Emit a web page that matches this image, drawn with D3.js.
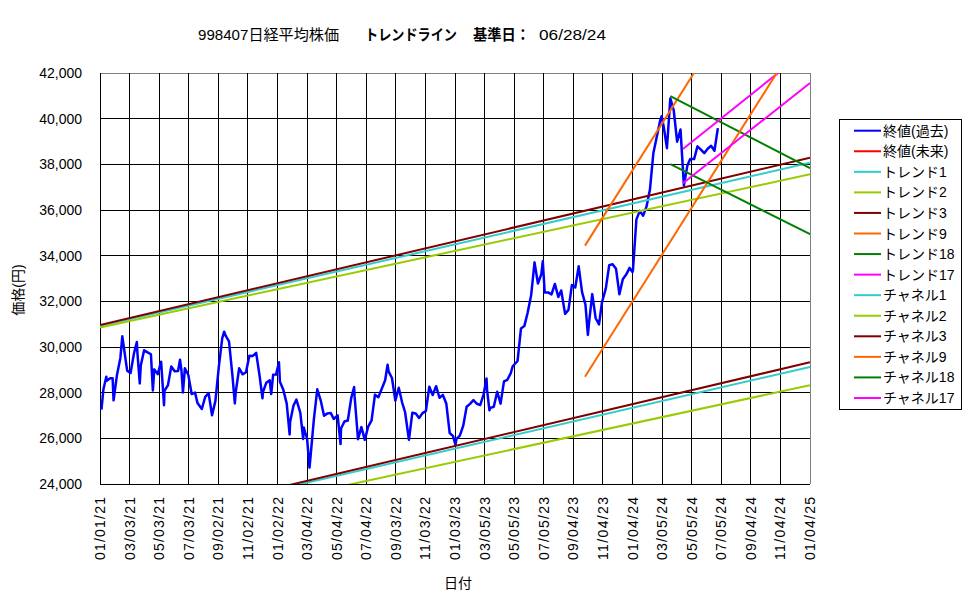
<!DOCTYPE html>
<html>
<head>
<meta charset="utf-8">
<script src="https://cdn.jsdelivr.net/npm/d3@7"></script>
<style>
  body { margin: 0; background: #fff; }
  text { font-family: "Liberation Sans", "Noto Sans CJK JP", sans-serif; fill: #000; }
</style>
</head>
<body>
<script>
//Size of the page and of the plot area
const w = 975;
const h = 599;
const plotLeft = 100, plotRight = 810, plotTop = 73, plotBottom = 484;

//Tick labels (mm/dd/yy), as on the chart
const xTickLabels = ["01/01/21","03/03/21","05/03/21","07/03/21","09/02/21","11/02/21",
  "01/02/22","03/04/22","05/04/22","07/04/22","09/03/22","11/03/22",
  "01/03/23","03/05/23","05/05/23","07/05/23","09/04/23","11/04/23",
  "01/04/24","03/05/24","05/05/24","07/05/24","09/04/24","11/04/24","01/04/25"];
const yTicks = [24000, 26000, 28000, 30000, 32000, 34000, 36000, 38000, 40000, 42000];

//Closing prices
const closeDates = [
  "21-01-04","21-01-08","21-01-14","21-01-15","21-01-22","21-01-27","21-01-29","21-02-05","21-02-12","21-02-16",
  "21-02-19","21-02-26","21-03-05","21-03-12","21-03-18","21-03-19","21-03-24","21-03-26","21-04-02","21-04-09",
  "21-04-16","21-04-20","21-04-23","21-04-30","21-05-07","21-05-13","21-05-14","21-05-21","21-05-28","21-06-04",
  "21-06-11","21-06-15","21-06-18","21-06-21","21-06-25","21-07-02","21-07-09","21-07-16","21-07-21","21-07-30",
  "21-08-06","21-08-13","21-08-20","21-08-27","21-09-03","21-09-10","21-09-14","21-09-17","21-09-24","21-10-01",
  "21-10-06","21-10-08","21-10-15","21-10-22","21-10-29","21-11-05","21-11-12","21-11-19","21-11-26","21-12-02",
  "21-12-03","21-12-10","21-12-17","21-12-20","21-12-24","21-12-30",
  "22-01-05","22-01-07","22-01-14","22-01-21","22-01-27","22-01-28","22-02-04","22-02-10","22-02-18","22-02-24",
  "22-02-25","22-03-04","22-03-09","22-03-11","22-03-18","22-03-25","22-04-01","22-04-08","22-04-15","22-04-22",
  "22-04-28","22-05-06","22-05-12","22-05-13","22-05-20","22-05-27","22-06-03","22-06-09","22-06-10","22-06-17",
  "22-06-24","22-07-01","22-07-08","22-07-15","22-07-22","22-07-29","22-08-05","22-08-12","22-08-17","22-08-19",
  "22-08-26","22-09-02","22-09-09","22-09-16","22-09-22","22-09-30","22-10-07","22-10-14","22-10-21","22-10-28",
  "22-11-04","22-11-11","22-11-18","22-11-25","22-12-02","22-12-09","22-12-16","22-12-23","22-12-30",
  "23-01-04","23-01-06","23-01-13","23-01-20","23-01-27","23-02-03","23-02-10","23-02-17","23-02-24","23-03-03",
  "23-03-09","23-03-10","23-03-15","23-03-17","23-03-24","23-03-31","23-04-07","23-04-14","23-04-21","23-04-28",
  "23-05-02","23-05-12","23-05-19","23-05-26","23-06-02","23-06-09","23-06-16","23-06-23","23-06-30","23-07-03",
  "23-07-07","23-07-14","23-07-21","23-07-28","23-08-04","23-08-10","23-08-18","23-08-25","23-09-01","23-09-08",
  "23-09-15","23-09-22","23-09-29","23-10-04","23-10-06","23-10-13","23-10-20","23-10-27","23-11-02","23-11-10",
  "23-11-17","23-11-24","23-12-01","23-12-08","23-12-15","23-12-22","23-12-29",
  "24-01-04","24-01-05","24-01-12","24-01-19","24-01-26","24-02-02","24-02-09","24-02-16","24-02-22","24-03-01",
  "24-03-04","24-03-08","24-03-15","24-03-22","24-03-29","24-04-05","24-04-12","24-04-19","24-04-26","24-05-02",
  "24-05-10","24-05-17","24-05-24","24-05-31","24-06-07","24-06-14","24-06-21","24-06-28"];
const closeValues = [
  27258,28139,28698,28519,28631,28635,27663,28779,29520,30467,
  30017,28966,28864,29717,30216,29792,28405,29176,29854,29768,
  29683,28100,29020,28812,29357,27448,28084,28317,29149,28941,
  28948,29441,28964,28010,29066,28783,27940,28003,27548,27283,
  27820,27977,27013,27641,29128,30381,30670,30500,30248,28771,
  27528,28048,29068,28804,28892,29612,29609,29745,28751,27753,
  28029,28437,28545,27937,28782,28791,
  29332,28479,28124,27522,26170,26717,27440,27696,27122,25970,
  26476,25985,24717,25163,26827,28149,27666,26985,27093,27105,
  26848,27003,25748,26427,26739,26781,27761,28246,27824,25963,
  26491,25935,26517,26788,27914,27801,28175,28546,29222,28930,
  28641,27650,28214,27567,27153,25937,27116,27090,26890,27105,
  27199,28263,27899,28283,27777,27901,27527,26235,26095,
  25717,25974,26120,26554,27383,27510,27671,27514,27454,27927,
  28624,28144,27229,27334,27385,28041,27518,28493,28564,28856,
  29158,29388,30808,30916,31524,32265,33706,32782,33189,33753,
  32388,32391,32304,32759,32193,32474,31451,31625,32711,32607,
  33533,32402,31858,30527,30995,32316,31259,30992,31950,32568,
  33585,33626,33432,32308,32971,33170,33464,
  33288,33377,35577,35963,35751,36158,36897,38487,39098,39911,
  40109,39689,38708,40888,40369,38992,39523,37068,37934,38236,
  38229,38787,38647,38488,38684,38815,38597,39583];

//Trend lines and channels: start and end points
const trendNames = ["トレンド1","トレンド2","トレンド3","トレンド9","トレンド18","トレンド17",
  "チャネル1","チャネル2","チャネル3","チャネル9","チャネル18","チャネル17"];
const trendStartDates = ["21-01-01","21-01-01","21-01-01","23-09-28","24-03-22","24-04-17",
  "21-01-01","21-01-01","21-01-01","23-09-28","24-03-22","24-04-17"];
const trendStartValues = [30920, 30854, 30960, 34440, 40990, 38670, 21973, 21618, 22000, 28700, 38010, 37170];
const trendEndDates = ["25-01-04","25-01-04","25-01-04","25-01-04","25-01-04","25-01-04",
  "25-01-04","25-01-04","25-01-04","25-01-04","25-01-04","25-01-04"];
const trendEndValues = [38072, 37563, 38290, 50050, 37830, 43120, 29125, 28327, 29330, 44310, 34940, 41560];

//Legend
const legendNames = ["終値(過去)","終値(未来)","トレンド1","トレンド2","トレンド3","トレンド9","トレンド18","トレンド17",
  "チャネル1","チャネル2","チャネル3","チャネル9","チャネル18","チャネル17"];
const legendColors = ["#0000ff","#ff0000","#33cccc","#99cc00","#800000","#ff6600","#008000","#ff00ff",
  "#33cccc","#99cc00","#800000","#ff6600","#008000","#ff00ff"];

const parseDay = d3.timeParse("%y-%m-%d");
const parseTick = d3.timeParse("%m/%d/%y");

const xScale = d3.scaleTime()
  .domain([parseTick(xTickLabels[0]), parseTick(xTickLabels[xTickLabels.length - 1])])
  .range([plotLeft, plotRight]);
const yScale = d3.scaleLinear()
  .domain([24000, 42000])
  .range([plotBottom, plotTop]);

const svg = d3.select("body")
  .append("svg")
  .attr("width", w)
  .attr("height", h);

svg.append("defs").append("clipPath")
  .attr("id", "plot-clip")
  .append("rect")
  .attr("x", plotLeft)
  .attr("y", plotTop)
  .attr("width", plotRight - plotLeft)
  .attr("height", plotBottom - plotTop);

//Grid
const grid = svg.append("g").attr("shape-rendering", "crispEdges");
grid.selectAll("line.h")
  .data(yTicks)
  .join("line")
  .attr("class", "h")
  .attr("x1", plotLeft).attr("x2", plotRight)
  .attr("y1", d => yScale(d)).attr("y2", d => yScale(d))
  .attr("stroke", (d, i) => i === yTicks.length - 1 ? "#808080" : "#000")
  .attr("stroke-width", 1);
grid.selectAll("line.v")
  .data(xTickLabels)
  .join("line")
  .attr("class", "v")
  .attr("x1", d => xScale(parseTick(d))).attr("x2", d => xScale(parseTick(d)))
  .attr("y1", plotTop).attr("y2", plotBottom)
  .attr("stroke", (d, i) => i === xTickLabels.length - 1 ? "#808080" : "#000")
  .attr("stroke-width", 1);
//Axes lines
grid.append("line")
  .attr("x1", plotLeft).attr("x2", plotLeft)
  .attr("y1", plotTop).attr("y2", plotBottom)
  .attr("stroke", "#000");
grid.append("line")
  .attr("x1", plotLeft).attr("x2", plotRight)
  .attr("y1", plotBottom).attr("y2", plotBottom)
  .attr("stroke", "#000");

//Y tick labels
svg.append("g")
  .selectAll("text")
  .data(yTicks)
  .join("text")
  .attr("x", 82)
  .attr("y", d => yScale(d) + 5)
  .attr("text-anchor", "end")
  .attr("font-size", "14px")
  .text(d => d3.format(",")(d));

//X tick labels (rotated)
svg.append("g")
  .selectAll("text")
  .data(xTickLabels)
  .join("text")
  .attr("transform", d => "translate(" + (xScale(parseTick(d)) + 5) + ",497) rotate(-90)")
  .attr("text-anchor", "end")
  .attr("font-size", "14px")
  .attr("textLength", 63)
  .attr("lengthAdjust", "spacing")
  .text(d => d);

//Axis titles
svg.append("text")
  .attr("x", 458).attr("y", 588)
  .attr("text-anchor", "middle")
  .attr("font-size", "14px")
  .text("日付");
svg.append("text")
  .attr("transform", "translate(23,290) rotate(-90)")
  .attr("text-anchor", "middle")
  .attr("font-size", "14px")
  .text("価格(円)");

//Title
const title = svg.append("g").attr("font-size", "15px");
title.append("text").attr("x", 198).attr("y", 40)
  .attr("textLength", 141).attr("lengthAdjust", "spacingAndGlyphs")
  .text("998407日経平均株価");
title.append("text").attr("x", 365).attr("y", 40).attr("font-weight", "bold")
  .attr("textLength", 92).attr("lengthAdjust", "spacingAndGlyphs")
  .text("トレンドライン");
title.append("text").attr("x", 473).attr("y", 40).attr("font-weight", "bold")
  .attr("textLength", 57).attr("lengthAdjust", "spacingAndGlyphs")
  .text("基準日：");
title.append("text").attr("x", 539).attr("y", 40).attr("font-size", "14px")
  .attr("textLength", 67).attr("lengthAdjust", "spacingAndGlyphs")
  .text("06/28/24");

//Closing price line
const closeData = closeDates.map((d, i) => ({date: parseDay(d), value: closeValues[i]}));
const line = d3.line()
  .x(d => xScale(d.date))
  .y(d => yScale(d.value));

svg.append("path")
  .datum(closeData)
  .attr("fill", "none")
  .attr("stroke", "#0000ff")
  .attr("stroke-width", 2.5)
  .attr("stroke-linejoin", "round")
  .attr("d", line);

//Trend lines and channels
const trendData = trendNames.map((name, i) => ({
  name: name,
  color: legendColors[legendNames.indexOf(name)],
  points: [
    {date: parseDay(trendStartDates[i]), value: trendStartValues[i]},
    {date: parseDay(trendEndDates[i]), value: trendEndValues[i]}
  ]
}));

svg.append("g")
  .attr("clip-path", "url(#plot-clip)")
  .selectAll("path")
  .data(trendData)
  .join("path")
  .attr("fill", "none")
  .attr("stroke", d => d.color)
  .attr("stroke-width", 2)
  .attr("d", d => line(d.points));

//Legend
const legend = svg.append("g");
legend.append("rect")
  .attr("x", 839.5).attr("y", 119.5)
  .attr("width", 122).attr("height", 290)
  .attr("fill", "#fff")
  .attr("stroke", "#000")
  .attr("stroke-width", 1);
const items = legend.selectAll("g.item")
  .data(legendNames)
  .join("g")
  .attr("class", "item")
  .attr("transform", (d, i) => "translate(0," + (130.7 + i * 20.56) + ")");
items.append("line")
  .attr("x1", 854).attr("x2", 881)
  .attr("y1", 0).attr("y2", 0)
  .attr("stroke", (d, i) => legendColors[i])
  .attr("stroke-width", 2);
items.append("text")
  .attr("x", 883).attr("y", 5)
  .attr("font-size", "14px")
  .text(d => d);
</script>
</body>
</html>
